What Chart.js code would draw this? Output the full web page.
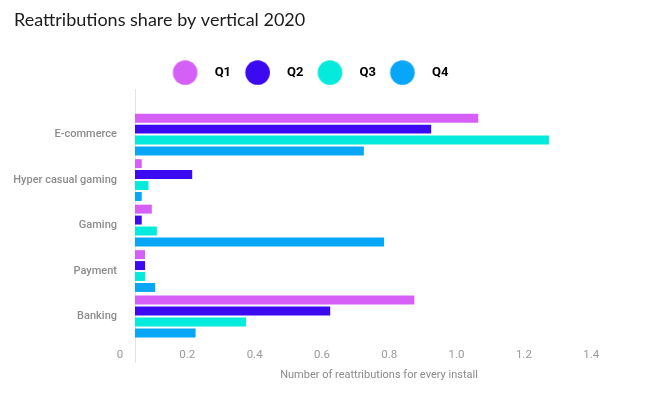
<!DOCTYPE html>
<html>
<head>
<meta charset="utf-8">
<script src="https://cdn.jsdelivr.net/npm/chart.js@4/dist/chart.umd.min.js"></script>
<style>
  html, body { margin: 0; padding: 0; background: #ffffff; }
  #wrap { width: 651px; height: 397px; }
</style>
</head>
<body>
<div id="wrap"><canvas id="c" width="651" height="397"></canvas></div>
<script>
const categories = ['E-commerce', 'Hyper casual gaming', 'Gaming', 'Payment', 'Banking'];
const seriesNames = ['Q1', 'Q2', 'Q3', 'Q4'];
const q1 = [1.02, 0.02, 0.05, 0.03, 0.83];
const q2 = [0.88, 0.17, 0.02, 0.03, 0.58];
const q3 = [1.23, 0.04, 0.065, 0.03, 0.33];
const q4 = [0.68, 0.02, 0.74, 0.06, 0.18];
const xTicks = [0, 0.2, 0.4, 0.6, 0.8, 1.0, 1.2, 1.4];
const xTickLabels = ['0', '0.2', '0.4', '0.6', '0.8', '1.0', '1.2', '1.4'];
const colors = ['#d660f7', '#3c0af0', '#04eadc', '#08a6f6'];

const seriesValues = [q1, q2, q3, q4];

function dot(color) {
  const cv = document.createElement('canvas');
  cv.width = 56; cv.height = 25;
  const g = cv.getContext('2d');
  g.fillStyle = color;
  g.beginPath();
  g.arc(14.75, 12.5, 12.3, 0, Math.PI * 2);
  g.fill();
  return cv;
}
const dots = colors.map(dot);

const datasets = seriesNames.map((name, s) => ({
  label: name,
  data: seriesValues[s].map((v, i) => ({ x: v, y: i })),
  backgroundColor: colors[s],
  borderWidth: 0,
  categoryPercentage: 0.963,
  barPercentage: 0.818
}));

new Chart(document.getElementById('c'), {
  type: 'bar',
  data: { datasets },
  options: {
    indexAxis: 'y',
    responsive: false,
    animation: false,
    layout: { padding: { left: 14, right: 28, top: 0, bottom: 0 } },
    plugins: {
      tooltip: { enabled: false },
      title: {
        display: true,
        text: 'Reattributions share by vertical 2020',
        align: 'start',
        color: '#1c1c1c',
        font: { family: 'Lato', size: 18, weight: 'normal', lineHeight: 1.2 },
        padding: { top: 9.2, bottom: 5.3 }
      },
      legend: {
        display: true,
        position: 'top',
        align: 'center',
        labels: {
          usePointStyle: true,
          pointStyleWidth: 19.5,
          padding: 30,
          color: '#111111',
          font: { family: 'Roboto', size: 13, weight: 'bold' },
          generateLabels: (chart) => chart.data.datasets.map((ds, i) => ({
            text: ds.label,
            fillStyle: colors[i],
            strokeStyle: colors[i],
            lineWidth: 0,
            pointStyle: dots[i],
            hidden: false,
            datasetIndex: i
          }))
        }
      }
    },
    scales: {
      y: {
        type: 'linear',
        reverse: true,
        offset: false,
        min: -1,
        max: 5,
        afterFit: (s) => { s.width = 121; },
        afterBuildTicks: (s) => { s.ticks = categories.map((_, i) => ({ value: i })); },
        grid: { display: false, drawTicks: false, offset: false },
        border: { display: true, color: '#e3e3e3', width: 1 },
        ticks: {
          autoSkip: false,
          padding: 18,
          color: '#8c8c8c',
          font: { family: 'Roboto', size: 11, weight: '500' },
          callback: (v) => categories[v]
        }
      },
      x: {
        type: 'linear',
        min: 0,
        max: 1.45,
        afterBuildTicks: (s) => { s.ticks = xTicks.map(v => ({ value: v })); },
        grid: { display: false, drawTicks: false },
        border: { display: false },
        ticks: {
          autoSkip: false,
          maxRotation: 0,
          mirror: true,
          padding: 0,
          labelOffset: -15,
          color: '#9a9a9a',
          font: { family: 'Roboto', size: 11.5 },
          callback: (v, i) => xTickLabels[i]
        },
        title: {
          display: true,
          text: 'Number of reattributions for every install',
          color: '#8a8a8a',
          font: { family: 'Roboto', size: 11, lineHeight: 1.2 },
          padding: { top: 6.4, bottom: 15.4 }
        }
      }
    }
  }
});
</script>
</body>
</html>
